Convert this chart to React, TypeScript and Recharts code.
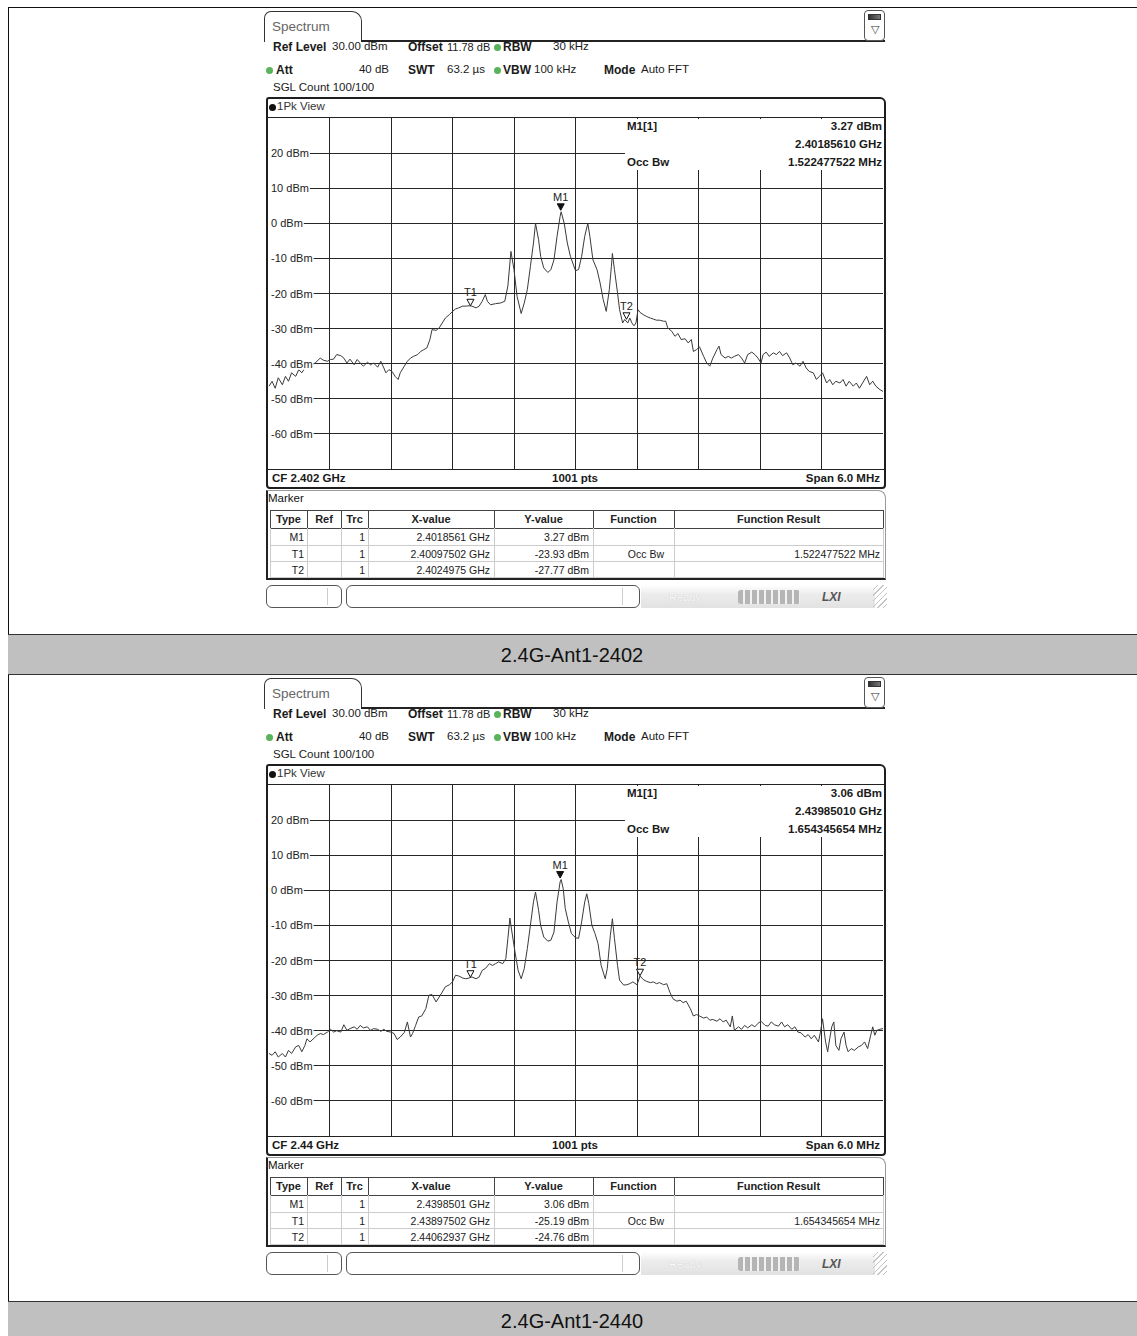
import React from 'react';
import { LineChart, Line, XAxis, YAxis, CartesianGrid, ReferenceDot } from 'recharts';

const FONT = '"Liberation Sans", Arial, Helvetica, sans-serif';
const W = 1137;

// ---------- Panel 1 (CF 2.402 GHz) : frequency offset from CF in MHz, level in dBm ----------
const freq2402: number[] = [
  -2.99, -2.96, -2.93, -2.90, -2.86, -2.83, -2.80, -2.77, -2.73, -2.70,
  -2.67, -2.64, -2.60, -2.57, -2.54, -2.49, -2.46, -2.42, -2.39, -2.36,
  -2.33, -2.29, -2.26, -2.23, -2.20, -2.16, -2.13, -2.10, -2.07, -2.03,
  -2.00, -1.97, -1.93, -1.90, -1.87, -1.85, -1.82, -1.79, -1.76, -1.73,
  -1.71, -1.67, -1.64, -1.61, -1.58, -1.54, -1.51, -1.48, -1.45, -1.42,
  -1.40, -1.36, -1.33, -1.30, -1.27, -1.23, -1.20, -1.17, -1.14, -1.10,
  -1.07, -1.04, -1.01, -0.97, -0.94, -0.91, -0.88, -0.86, -0.83, -0.78,
  -0.73, -0.69, -0.66, -0.63, -0.60, -0.57, -0.53, -0.50, -0.47, -0.44,
  -0.41, -0.39, -0.36, -0.34, -0.31, -0.27, -0.24, -0.21, -0.18, -0.15,
  -0.14, -0.11, -0.08, -0.05, 0.00,
  0.03, 0.06, 0.09, 0.12, 0.14, 0.17, 0.21, 0.24, 0.27, 0.30,
  0.33, 0.35, 0.36, 0.38, 0.41, 0.43, 0.46, 0.48, 0.51, 0.53,
  0.55, 0.57, 0.59, 0.61, 0.63, 0.66, 0.69, 0.73, 0.76, 0.79,
  0.82, 0.86, 0.88, 0.90, 0.94, 0.97, 1.00, 1.03, 1.07, 1.10,
  1.13, 1.15, 1.18, 1.21, 1.25, 1.28, 1.31, 1.34, 1.38, 1.40,
  1.42, 1.46, 1.49, 1.52, 1.55, 1.59, 1.62, 1.65, 1.68, 1.72,
  1.75, 1.78, 1.81, 1.83, 1.86, 1.89, 1.93, 1.96, 1.99, 2.02,
  2.06, 2.09, 2.12, 2.15, 2.19, 2.22, 2.25, 2.28, 2.32, 2.35,
  2.38, 2.41, 2.45, 2.48, 2.51, 2.54, 2.58, 2.61, 2.64, 2.67,
  2.71, 2.74, 2.77, 2.80, 2.84, 2.87, 2.90, 2.93, 2.97, 3.00,
];
const level2402: number[] = [
  -46.4, -45, -47, -44, -46, -43.6, -45, -42.6, -43.6, -41.7,
  -42.6, -41.2, -39.8, -40.3, -39.8, -38.4, -39, -39.3, -38.8, -38.7,
  -37.4, -37.7, -38.4, -39.8, -38.7, -40.3, -38.8, -39.8, -40.7, -39.6,
  -40.3, -39.8, -41, -39.3, -41.2, -42.6, -41.7, -42.2, -43.6, -44.5,
  -42.6, -40.7, -39.3, -38.4, -37.9, -37.4, -36.5, -36, -35.5, -33.1,
  -30.3, -30.5, -29.8, -28.4, -27, -26, -25.1, -24.4, -24.1, -23.6,
  -23.6, -23.5, -23.6, -24.1, -23.6, -22.2, -20.3, -22.2, -23.2, -22.9,
  -22.7, -22.2, -17.9, -8, -13.2, -20.8, -25.7, -22.7, -18.9, -12.3,
  -5.6, 0, -4.7, -9.4, -12.7, -14, -13.2, -10.4, -3.7, 2,
  3.27, 0, -5.6, -9.4, -13.5,
  -13.2, -9.4, -3.7, 0, -3.7, -10.4, -13.2, -17, -21.7, -25.1,
  -18.9, -12.3, -8.6, -13.2, -19.8, -24.6, -28.4, -27.4, -28.4, -27,
  -28.4, -29.2, -28.4, -24.6, -25.4, -26, -26.5, -27, -27.3, -27.6,
  -27.6, -27.9, -27.9, -29.8, -30.8, -32.2, -31.4, -33.1, -32.9, -34.1,
  -33.1, -36.5, -36, -35.2, -37.9, -39.8, -40.7, -38.4, -36, -35,
  -37.4, -38.4, -37.9, -38.4, -37.9, -37.4, -38.4, -39.8, -37.4, -36.7,
  -37.4, -38.4, -39.8, -37.4, -36.7, -37.9, -36.9, -37.4, -36.5, -37.7,
  -36.9, -38.4, -40.3, -39.8, -40.7, -39.3, -41.2, -42.2, -42.6, -44.5,
  -43.6, -42.6, -45.5, -44.5, -46, -45, -45.5, -44.5, -46.4, -45,
  -46.4, -45.5, -47, -45.5, -43.6, -46, -45, -46.4, -47.4, -47.9,
];

// ---------- Panel 2 (CF 2.44 GHz) ----------
const freq2440: number[] = [
  -2.99, -2.96, -2.93, -2.90, -2.86, -2.83, -2.80, -2.77, -2.73, -2.70,
  -2.67, -2.64, -2.62, -2.59, -2.55, -2.52, -2.49, -2.46, -2.42, -2.39,
  -2.36, -2.33, -2.29, -2.26, -2.23, -2.20, -2.16, -2.13, -2.10, -2.07,
  -2.03, -2.00, -1.97, -1.93, -1.90, -1.87, -1.84, -1.80, -1.77, -1.74,
  -1.71, -1.67, -1.64, -1.61, -1.59, -1.56, -1.53, -1.50, -1.46, -1.43,
  -1.40, -1.36, -1.33, -1.30, -1.27, -1.23, -1.20, -1.17, -1.14, -1.10,
  -1.07, -1.04, -1.01, -0.97, -0.94, -0.91, -0.88, -0.84, -0.81, -0.78,
  -0.75, -0.71, -0.68, -0.66, -0.64, -0.62, -0.59, -0.56, -0.53, -0.50,
  -0.47, -0.44, -0.41, -0.39, -0.36, -0.34, -0.31, -0.27, -0.24, -0.21,
  -0.18, -0.15, -0.14, -0.12, -0.10, -0.07, -0.04, 0.00,
  0.03, 0.06, 0.09, 0.11, 0.13, 0.16, 0.19, 0.22, 0.25, 0.29,
  0.31, 0.34, 0.36, 0.38, 0.41, 0.43, 0.47, 0.50, 0.53, 0.56,
  0.60, 0.63, 0.66, 0.69, 0.73, 0.76, 0.79, 0.82, 0.86, 0.89,
  0.92, 0.95, 0.99, 1.02, 1.05, 1.08, 1.12, 1.15, 1.18, 1.21,
  1.25, 1.28, 1.31, 1.34, 1.38, 1.41, 1.44, 1.47, 1.51, 1.53,
  1.55, 1.59, 1.62, 1.65, 1.68, 1.72, 1.75, 1.78, 1.81, 1.85,
  1.88, 1.91, 1.94, 1.98, 2.01, 2.04, 2.07, 2.11, 2.14, 2.17,
  2.20, 2.24, 2.27, 2.30, 2.33, 2.37, 2.39, 2.41, 2.44, 2.46,
  2.48, 2.50, 2.52, 2.54, 2.57, 2.59, 2.62, 2.64, 2.66, 2.69,
  2.72, 2.76, 2.79, 2.82, 2.85, 2.88, 2.90, 2.92, 2.94, 2.97,
  3.00,
];
const level2440: number[] = [
  -46.5, -47, -46, -47.5, -46.5, -47.5, -45.6, -46.5, -44.6, -44.2,
  -46, -44.2, -42.3, -43.2, -42.1, -41.3, -40.8, -41.1, -40.4, -39.6,
  -40.4, -40, -40.4, -38.3, -39.9, -39.4, -38.9, -39.6, -38.5, -39.2,
  -38.9, -39.9, -39.4, -39.6, -40.2, -39.6, -40.2, -40.4, -40.8, -42.5,
  -41.8, -40.5, -37.5, -41.8, -40.8, -38.5, -36.1, -35.8, -33.7, -29.9,
  -29.7, -31.8, -30.4, -29, -27.5, -26.9, -26.1, -24.2, -24.4, -25,
  -25.2, -25, -24.7, -25.2, -24.7, -22.8, -22.3, -20.9, -21.4, -20.9,
  -20.4, -20.9, -19.5, -13.8, -7.9, -11.9, -17.6, -22.8, -25.2, -22.3,
  -16.6, -10, -3.3, -0.5, -5.7, -10, -13.3, -14.5, -14.2, -11.9,
  -3.3, 2.4, 3.06, 0.5, -5.2, -9, -12.3, -13.5,
  -13.7, -9, -3.3, -1, -3.8, -10, -12.3, -15.2, -21.4, -25.2,
  -22.3, -12.8, -8.1, -13.7, -21.4, -25.6, -27, -26.9, -26.6, -26.1,
  -26.9, -24.4, -25.4, -25.9, -26.3, -26.1, -26.6, -26.3, -26.9, -26.6,
  -29, -30.9, -31.6, -31.3, -32, -31.6, -33.7, -35.8, -35.4, -35.8,
  -36.4, -36.1, -37, -36.8, -37.3, -36.6, -37.5, -37, -38.9, -35.8,
  -39.9, -38.9, -39.6, -38.5, -39.2, -38.3, -38.9, -37.9, -37.3, -38.5,
  -38.7, -37.5, -38.3, -38.7, -37.5, -38.9, -38.3, -39.6, -38.9, -40.4,
  -40.6, -41.8, -41.1, -42.3, -41.3, -43.2, -40.4, -36.6, -43.2, -46,
  -42.3, -38.9, -37.5, -44.2, -45.6, -42.3, -40.4, -44.2, -46, -45.1,
  -45.6, -44.6, -44.2, -43.2, -45.1, -41.3, -38.9, -41.3, -39.9, -39.6,
  -39.4,
];

// ---------- axes ----------
const levelTicks = [20, 10, 0, -10, -20, -30, -40, -50, -60];
const freqGrid = [-2.4, -1.8, -1.2, -0.6, 0, 0.6, 1.2, 1.8, 2.4];

// ---------- markers (offset MHz, dBm) ----------
const markerNames = ['M1', 'T1', 'T2'];
const markerFreq2402 = [-0.1439, -1.025, 0.4975];
const markerLevel2402 = [3.27, -23.93, -27.77];
const markerFreq2440 = [-0.1499, -1.025, 0.6294];
const markerLevel2440 = [3.06, -25.19, -24.76];

// ---------- marker table texts ----------
const tableHeaders = ['Type', 'Ref', 'Trc', 'X-value', 'Y-value', 'Function', 'Function Result'];
const xText2402 = ['2.4018561 GHz', '2.40097502 GHz', '2.4024975 GHz'];
const yText2402 = ['3.27 dBm', '-23.93 dBm', '-27.77 dBm'];
const xText2440 = ['2.4398501 GHz', '2.43897502 GHz', '2.44062937 GHz'];
const yText2440 = ['3.06 dBm', '-25.19 dBm', '-24.76 dBm'];
const occBw2402 = '1.522477522 MHz';
const occBw2440 = '1.654345654 MHz';
const m1Freq2402 = '2.40185610 GHz';
const m1Freq2440 = '2.43985010 GHz';

// approximate advance widths (em) of the label glyphs, used for the white label backing
const glyphEm: Record<string, number> = { ' ': 0.278, '-': 0.333, d: 0.556, B: 0.667, m: 0.833 };
const textWidth = (s: string, size: number) =>
  s.split('').reduce((a, c) => a + (glyphEm[c] ?? 0.556), 0) * size;

function Tx({ x, y, size = 12, bold = false, align = 'left', color = '#1a1a1a', children, extra = {} }: any) {
  const style: any = {
    position: 'absolute', top: y, fontSize: size, fontWeight: bold ? 700 : 400, color,
    fontFamily: FONT, lineHeight: 1, whiteSpace: 'nowrap', ...extra,
  };
  if (align === 'left') { style.left = x; style.transform = 'translateY(-50%)'; }
  else if (align === 'right') { style.right = W - x; style.transform = 'translateY(-50%)'; }
  else { style.left = x; style.transform = 'translate(-50%,-50%)'; }
  return <div style={style}>{children}</div>;
}

function Box({ l, t, w, h, s = {} }: any) {
  return <div style={{ position: 'absolute', left: l, top: t, width: w, height: h, boxSizing: 'border-box', ...s }} />;
}

const YTick = (props: any) => {
  const { y, payload } = props;
  const label = `${payload.value} dBm`;
  const w = textWidth(label, 11) + 4;
  return (
    <g>
      <rect x={0} y={y - 6} width={w} height={12} fill="#fff" />
      <text x={3} y={y} dy={4} fontSize={11} fontFamily={FONT} fill="#222" textAnchor="start">{label}</text>
    </g>
  );
};

const markerShape = (name: string, filled: boolean) => (props: any) => {
  const { cx, cy } = props;
  return (
    <g>
      <path d={`M${cx - 3.5},${cy - 8} L${cx + 3.5},${cy - 8} L${cx},${cy - 1.5} Z`}
        fill={filled ? '#111' : '#fff'} stroke="#111" strokeWidth={1} />
      <text x={cx} y={cy - 11} textAnchor="middle" fontSize={11} fontFamily={FONT} fill="#222">{name}</text>
    </g>
  );
};

function Dot({ x, y, color }: any) {
  return <div style={{ position: 'absolute', left: x - 3.5, top: y - 3.5, width: 7, height: 7, borderRadius: '50%', background: color }} />;
}

function Panel({ oy, cf, freq, level, mFreq, mLevel, m1Level, m1Freq, occ, xText, yText }: any) {
  const data = freq.map((f: number, i: number) => ({ f, v: level[i] }));
  const cols = [270, 307, 341, 368, 494, 593, 674, 883];
  const rowTops = [528, 545, 561];
  const y = (v: number) => v + oy;
  return (
    <>
      {/* tab */}
      <Box l={264} t={y(11)} w={98} h={31} s={{ border: '1.5px solid #333', borderBottom: 'none', borderRadius: '7px 10px 0 0', background: '#fff' }} />
      <Tx x={272} y={y(27)} size={13.5} color="#666">Spectrum</Tx>
      <Box l={361} t={y(40)} w={524} h={2} s={{ background: '#222' }} />
      {/* icon */}
      <Box l={864} t={y(10)} w={21} h={31} s={{ border: '1px solid #555', borderRadius: 4, background: '#fff' }} />
      <Box l={868} t={y(14)} w={13} h={6} s={{ background: 'linear-gradient(90deg,#333,#777)', border: '1px solid #333' }} />
      <Tx x={874.5} y={y(29)} size={11} align="center" color="#333">▽</Tx>
      {/* settings rows */}
      <Tx x={273} y={y(47)} bold>Ref Level</Tx>
      <Tx x={332} y={y(47)} size={11.5}>30.00 dBm</Tx>
      <Tx x={408} y={y(47)} bold>Offset</Tx>
      <Tx x={447} y={y(47)} size={11}>11.78 dB</Tx>
      <Dot x={497} y={y(47)} color="#59b35a" />
      <Tx x={503} y={y(47)} bold>RBW</Tx>
      <Tx x={553} y={y(47)} size={11.5}>30 kHz</Tx>
      <Dot x={269} y={y(70)} color="#59b35a" />
      <Tx x={276} y={y(70)} bold>Att</Tx>
      <Tx x={389} y={y(70)} size={11.5} align="right">40 dB</Tx>
      <Tx x={408} y={y(70)} bold>SWT</Tx>
      <Tx x={447} y={y(70)} size={11.5}>63.2 µs</Tx>
      <Dot x={497} y={y(70)} color="#59b35a" />
      <Tx x={503} y={y(70)} bold>VBW</Tx>
      <Tx x={534} y={y(70)} size={11.5}>100 kHz</Tx>
      <Tx x={604} y={y(70)} bold>Mode</Tx>
      <Tx x={641} y={y(70)} size={11.5}>Auto FFT</Tx>
      <Tx x={273} y={y(88)} size={11.5}>SGL Count 100/100</Tx>
      {/* trace frame */}
      <Box l={266} t={y(97)} w={620} h={392} s={{ border: '2px solid #1e1e1e', borderRadius: '3px 6px 4px 4px' }} />
      <Dot x={272} y={y(107)} color="#111" />
      <Tx x={277} y={y(107)} size={11.5} color="#333">1Pk View</Tx>
      <Box l={268} t={y(117)} w={616} h={1} s={{ background: '#222' }} />
      <div style={{ position: 'absolute', left: 268, top: y(118) }}>
        <LineChart width={616} height={352} data={data} margin={{ top: 0, right: 1, bottom: 1, left: 0 }}>
          <CartesianGrid stroke="#262626" strokeWidth={1} horizontalValues={levelTicks} verticalValues={freqGrid} />
          <XAxis dataKey="f" type="number" domain={[-3, 3]} ticks={freqGrid} hide allowDataOverflow />
          <YAxis type="number" domain={[-70, 30]} ticks={levelTicks} mirror width={60} interval={0}
            axisLine={false} tickLine={false} tickSize={0} tickMargin={0} tick={(p: any) => <YTick {...p} />} allowDataOverflow />
          <Line type="linear" dataKey="v" stroke="#3a3a3a" strokeWidth={1} dot={false} isAnimationActive={false} />
          {markerNames.map((n, i) => (
            <ReferenceDot key={n} x={mFreq[i]} y={mLevel[i]} r={3} ifOverflow="visible"
              shape={markerShape(n, i === 0)} />
          ))}
        </LineChart>
      </div>
      <Box l={268} t={y(469)} w={616} h={1} s={{ background: '#222' }} />
      {/* marker info overlay */}
      <Box l={625} t={y(119)} w={259} h={51} s={{ background: '#fff' }} />
      <Tx x={627} y={y(127)} size={11.5} bold>M1[1]</Tx>
      <Tx x={882} y={y(127)} size={11.5} bold align="right">{m1Level}</Tx>
      <Tx x={882} y={y(145)} size={11.5} bold align="right">{m1Freq}</Tx>
      <Tx x={627} y={y(163)} size={11.5} bold>Occ Bw</Tx>
      <Tx x={882} y={y(163)} size={11.5} bold align="right">{occ}</Tx>
      {/* footer of trace window */}
      <Tx x={272} y={y(479)} size={11.5} bold>{cf}</Tx>
      <Tx x={575} y={y(479)} size={11.5} bold align="center">1001 pts</Tx>
      <Tx x={880} y={y(479)} size={11.5} bold align="right">Span 6.0 MHz</Tx>
      {/* marker table */}
      <Box l={266} t={y(490)} w={620} h={90} s={{ border: '1px solid #999', borderLeft: '2px solid #222', borderBottom: '2px solid #222', borderRadius: '0 8px 0 0' }} />
      <Tx x={268} y={y(499)} size={11.5} color="#111">Marker</Tx>
      <Box l={270} t={y(510)} w={613} h={1} s={{ background: '#444' }} />
      <Box l={270} t={y(528)} w={613} h={1} s={{ background: '#444' }} />
      <Box l={270} t={y(545)} w={613} h={1} s={{ background: '#ccc' }} />
      <Box l={270} t={y(561)} w={613} h={1} s={{ background: '#ccc' }} />
      <Box l={270} t={y(577)} w={613} h={1} s={{ background: '#ccc' }} />
      {cols.map((c) => (
        <React.Fragment key={c}>
          <Box l={c} t={y(510)} w={1} h={18} s={{ background: '#444' }} />
          <Box l={c} t={y(528)} w={1} h={50} s={{ background: '#ccc' }} />
        </React.Fragment>
      ))}
      {tableHeaders.map((h, i) => (
        <Tx key={h} x={(cols[i] + cols[i + 1]) / 2} y={y(519)} size={11} bold align="center" color="#222">{h}</Tx>
      ))}
      {markerNames.map((n, r) => (
        <React.Fragment key={n}>
          <Tx x={cols[1] - 3} y={y(rowTops[r] + 8.5)} size={10.5} align="right">{n}</Tx>
          <Tx x={cols[3] - 3} y={y(rowTops[r] + 8.5)} size={10.5} align="right">1</Tx>
          <Tx x={cols[4] - 4} y={y(rowTops[r] + 8.5)} size={10.5} align="right">{xText[r]}</Tx>
          <Tx x={cols[5] - 4} y={y(rowTops[r] + 8.5)} size={10.5} align="right">{yText[r]}</Tx>
        </React.Fragment>
      ))}
      <Tx x={cols[6] - 10} y={y(rowTops[1] + 8.5)} size={10.5} align="right">Occ Bw</Tx>
      <Tx x={cols[7] - 3} y={y(rowTops[1] + 8.5)} size={10.5} align="right">{occ}</Tx>
      {/* status bar */}
      <Box l={266} t={y(585)} w={76} h={23} s={{ border: '1px solid #555', borderRadius: 6, background: '#fff' }} />
      <Box l={327} t={y(588)} w={1} h={17} s={{ background: '#ccc' }} />
      <Box l={346} t={y(585)} w={294} h={23} s={{ border: '1px solid #555', borderRadius: 6, background: '#fff' }} />
      <Box l={622} t={y(588)} w={1} h={17} s={{ background: '#ccc' }} />
      <Box l={641} t={y(585)} w={234} h={23} s={{ background: 'linear-gradient(180deg,#ffffff 0%,#ececec 40%,#e2e2e2 100%)' }} />
      <Tx x={685} y={y(597)} size={11} align="center" color="#fafafa" extra={{ textShadow: '0 0 1px #bbb' }}>Ready</Tx>
      <Box l={738} t={y(590)} w={62} h={14} s={{ borderRadius: 3, background: 'repeating-linear-gradient(90deg,#b5b5b5 0 5px,#f2f2f2 5px 7px)' }} />
      <Tx x={822} y={y(597)} size={12} bold color="#555" extra={{ fontStyle: 'italic' }}>LXI</Tx>
      <Box l={873} t={y(585)} w={14} h={23} s={{ background: 'repeating-linear-gradient(135deg,transparent 0 3px,#c4c4c4 3px 4px)' }} />
    </>
  );
}

export default function App() {
  return (
    <div style={{ position: 'absolute', left: 0, top: 0, width: W, height: 1336, background: '#fff', overflow: 'hidden', fontFamily: FONT }}>
      <style>{`.recharts-cartesian-grid line { shape-rendering: crispEdges; }`}</style>
      {/* outer table lines */}
      <Box l={8} t={7} w={W - 8} h={1} s={{ background: '#111' }} />
      <Box l={8} t={7} w={1} h={1329} s={{ background: '#111' }} />
      <Panel oy={0} cf="CF 2.402 GHz" freq={freq2402} level={level2402}
        mFreq={markerFreq2402} mLevel={markerLevel2402} m1Level="3.27 dBm" m1Freq={m1Freq2402}
        occ={occBw2402} xText={xText2402} yText={yText2402} />
      <Box l={8} t={634} w={W - 8} h={41} s={{ background: '#c0c0c0', borderTop: '1px solid #333', borderBottom: '1px solid #333' }} />
      <Tx x={572} y={655} size={20} align="center" color="#111">2.4G-Ant1-2402</Tx>
      <Panel oy={667} cf="CF 2.44 GHz" freq={freq2440} level={level2440}
        mFreq={markerFreq2440} mLevel={markerLevel2440} m1Level="3.06 dBm" m1Freq={m1Freq2440}
        occ={occBw2440} xText={xText2440} yText={yText2440} />
      <Box l={8} t={1301} w={W - 8} h={41} s={{ background: '#c0c0c0', borderTop: '1px solid #333' }} />
      <Tx x={572} y={1321} size={20} align="center" color="#111">2.4G-Ant1-2440</Tx>
    </div>
  );
}
